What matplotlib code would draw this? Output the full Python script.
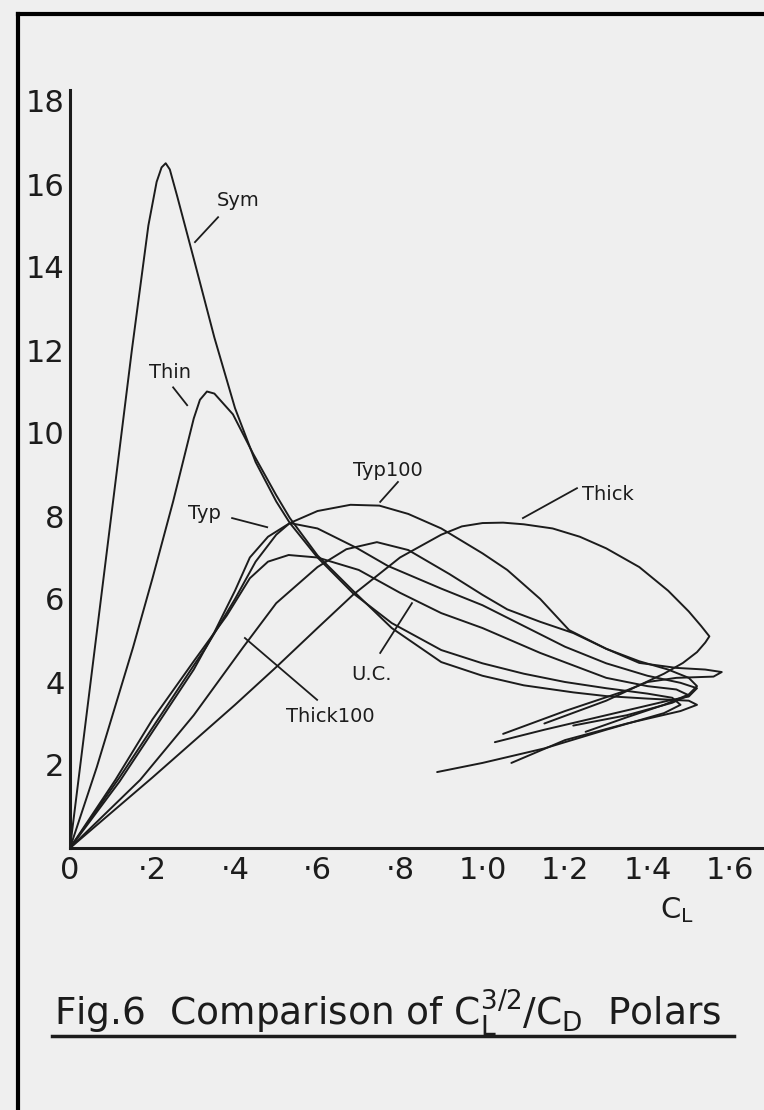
import matplotlib
matplotlib.use("Agg")
import matplotlib.pyplot as plt
from matplotlib.lines import Line2D

# C_L values / C_L^1.5/C_D values, one pair of lists per polar
sym_cl = [0, 0.05, 0.1, 0.15, 0.19, 0.21, 0.222, 0.232, 0.242, 0.26, 0.3, 0.35, 0.4, 0.45,
          0.5, 0.533, 0.6, 0.686, 0.78, 0.9, 1.0, 1.1, 1.2, 1.3, 1.4, 1.46, 1.48,
          1.44, 1.3, 1.15, 1.0, 0.89]
sym_val = [0, 4.0, 8.0, 12.0, 15.0, 16.05, 16.4, 16.5, 16.35, 15.7, 14.2, 12.3, 10.6, 9.3,
           8.35, 7.83, 7.0, 6.14, 5.42, 4.77, 4.45, 4.2, 4.0, 3.85, 3.72, 3.62, 3.45,
           3.25, 2.85, 2.4, 2.05, 1.83]

thin_cl = [0, 0.065, 0.153, 0.2, 0.25, 0.28, 0.3, 0.315, 0.332, 0.35, 0.395, 0.444, 0.5,
           0.533, 0.6, 0.686, 0.78, 0.9, 1.0, 1.1, 1.22, 1.3, 1.4, 1.5, 1.52,
           1.48, 1.35, 1.2, 1.07]
thin_val = [0, 1.95, 4.84, 6.5, 8.35, 9.55, 10.35, 10.8, 11.0, 10.95, 10.45, 9.5, 8.5,
            7.95, 7.05, 6.2, 5.3, 4.48, 4.15, 3.92, 3.75, 3.66, 3.6, 3.55, 3.45,
            3.3, 3.0, 2.6, 2.05]

typ_cl = [0, 0.12, 0.2, 0.3, 0.33, 0.4, 0.45, 0.5, 0.533, 0.6, 0.695, 0.77, 0.9, 1.0,
          1.1, 1.2, 1.3, 1.4, 1.48, 1.52, 1.5, 1.45, 1.3, 1.15, 1.03]
typ_val = [0, 1.7, 2.9, 4.4, 4.84, 6.0, 6.9, 7.55, 7.83, 7.7, 7.23, 6.8, 6.25, 5.85,
           5.35, 4.85, 4.45, 4.15, 3.98, 3.85, 3.65, 3.55, 3.2, 2.85, 2.55]

typ100_cl = [0, 0.12, 0.2, 0.3, 0.35, 0.4, 0.436, 0.48, 0.533, 0.6, 0.68, 0.75, 0.82, 0.9,
             1.0, 1.06, 1.14, 1.21, 1.3, 1.38, 1.47, 1.54, 1.58, 1.56, 1.47, 1.4, 1.35,
             1.2, 1.05]
typ100_val = [0, 1.6, 2.8, 4.3, 5.2, 6.2, 7.0, 7.5, 7.83, 8.12, 8.27, 8.25, 8.05, 7.7,
              7.1, 6.7, 6.0, 5.25, 4.8, 4.46, 4.34, 4.3, 4.24, 4.13, 4.1, 4.0, 3.8,
              3.3, 2.75]

uc_cl = [0, 0.11, 0.2, 0.3, 0.38, 0.436, 0.48, 0.53, 0.6, 0.7, 0.8, 0.9, 1.0, 1.14, 1.22,
         1.3, 1.4, 1.47, 1.5, 1.46, 1.35, 1.22]
uc_val = [0, 1.64, 3.1, 4.5, 5.6, 6.5, 6.9, 7.06, 7.0, 6.7, 6.15, 5.66, 5.3, 4.7, 4.4,
          4.1, 3.9, 3.82, 3.68, 3.5, 3.2, 2.95]

thick100_cl = [0, 0.17, 0.3, 0.42, 0.5, 0.6, 0.67, 0.744, 0.82, 0.92, 1.0, 1.06, 1.14, 1.22,
               1.3, 1.38, 1.45, 1.5, 1.52, 1.5, 1.44, 1.35, 1.25]
thick100_val = [0, 1.64, 3.2, 4.84, 5.9, 6.77, 7.2, 7.37, 7.18, 6.6, 6.1, 5.75, 5.45, 5.18,
                4.8, 4.5, 4.3, 4.1, 3.9, 3.7, 3.45, 3.15, 2.8]

thick_cl = [0, 0.2, 0.4, 0.5, 0.6, 0.686, 0.8, 0.9, 0.95, 1.0, 1.05, 1.1, 1.17, 1.236, 1.3,
            1.38, 1.45, 1.5, 1.53, 1.55, 1.54, 1.52, 1.486, 1.44, 1.3, 1.15]
thick_val = [0, 1.7, 3.45, 4.36, 5.3, 6.1, 7.0, 7.55, 7.75, 7.83, 7.84, 7.8, 7.7, 7.5, 7.22,
             6.77, 6.2, 5.7, 5.35, 5.1, 4.95, 4.72, 4.46, 4.2, 3.55, 3.0]

y_ticks = [2, 4, 6, 8, 10, 12, 14, 16, 18]
x_ticks = [0, 0.2, 0.4, 0.6, 0.8, 1.0, 1.2, 1.4, 1.6]
x_tick_labels = ["0", "·2", "·4", "·6", "·8", "1·0", "1·2", "1·4", "1·6"]

# curve labels: (text, text position, pointer start, pointer end)
curve_labels = [
    ("Sym", (0.407, 15.6), (0.359, 15.2), (0.303, 14.6)),
    ("Thin", (0.242, 11.45), (0.25, 11.1), (0.284, 10.67)),
    ("Typ", (0.327, 8.07), (0.393, 7.95), (0.478, 7.73)),
    ("Typ100", (0.771, 9.1), (0.795, 8.82), (0.752, 8.34)),
    ("Thick", (1.304, 8.53), (1.229, 8.67), (1.098, 7.95)),
    ("U.C.", (0.732, 4.17), (0.752, 4.7), (0.829, 5.9)),
    ("Thick100", (0.63, 3.18), (0.424, 5.06), (0.599, 3.57)),
]

W, H = 764, 1110
bg = "#efefef"
ink = "#1c1c1c"

fig = plt.figure(figsize=(W / 100, H / 100), dpi=100, facecolor=bg)
ax = fig.add_axes([70 / W, 1 - 848 / H, (W - 70) / W, (848 - 90) / H], facecolor=bg)

for cl, val in [(sym_cl, sym_val), (thin_cl, thin_val), (typ_cl, typ_val),
                (typ100_cl, typ100_val), (uc_cl, uc_val),
                (thick100_cl, thick100_val), (thick_cl, thick_val)]:
    ax.plot(cl, val, color=ink, lw=1.4, solid_joinstyle="round", solid_capstyle="round")

for text, txt_pos, p0, p1 in curve_labels:
    ax.text(*txt_pos, text, ha="center", va="center", fontsize=14, color=ink)
    ax.plot([p0[0], p1[0]], [p0[1], p1[1]], color=ink, lw=1.3)

ax.set_xlim(0, (W - 70) / 412.5)
ax.set_ylim(0, (848 - 90) / 41.5)
ax.set_xticks(x_ticks, labels=x_tick_labels)
ax.set_yticks(y_ticks)
ax.tick_params(length=0, labelsize=22, colors=ink)
ax.tick_params(axis="x", pad=6)
ax.tick_params(axis="y", pad=4)
for side in ("top", "right"):
    ax.spines[side].set_visible(False)
for side in ("left", "bottom"):
    ax.spines[side].set_linewidth(2.2)
    ax.spines[side].set_color(ink)

fig.text(677 / W, 1 - 910 / H, "$\\mathregular{C_L}$", fontsize=21, color=ink,
         ha="center", va="center")

fig.text(54 / W, 1 - 1013 / H,
         "Fig.6  Comparison of $\\mathregular{C_L^{3/2}/C_D}$  Polars",
         fontsize=27, color=ink, ha="left", va="center")
fig.add_artist(Line2D([52 / W, 734 / W], [1 - 1036 / H, 1 - 1036 / H], color=ink, lw=2.5))

# border of the drawing sheet
fig.add_artist(Line2D([18 / W, 18 / W], [0, 1 - 14 / H], color="black", lw=3))
fig.add_artist(Line2D([18 / W, 1], [1 - 14 / H, 1 - 14 / H], color="black", lw=3))

fig.savefig("out.png", dpi=100, facecolor=bg)
